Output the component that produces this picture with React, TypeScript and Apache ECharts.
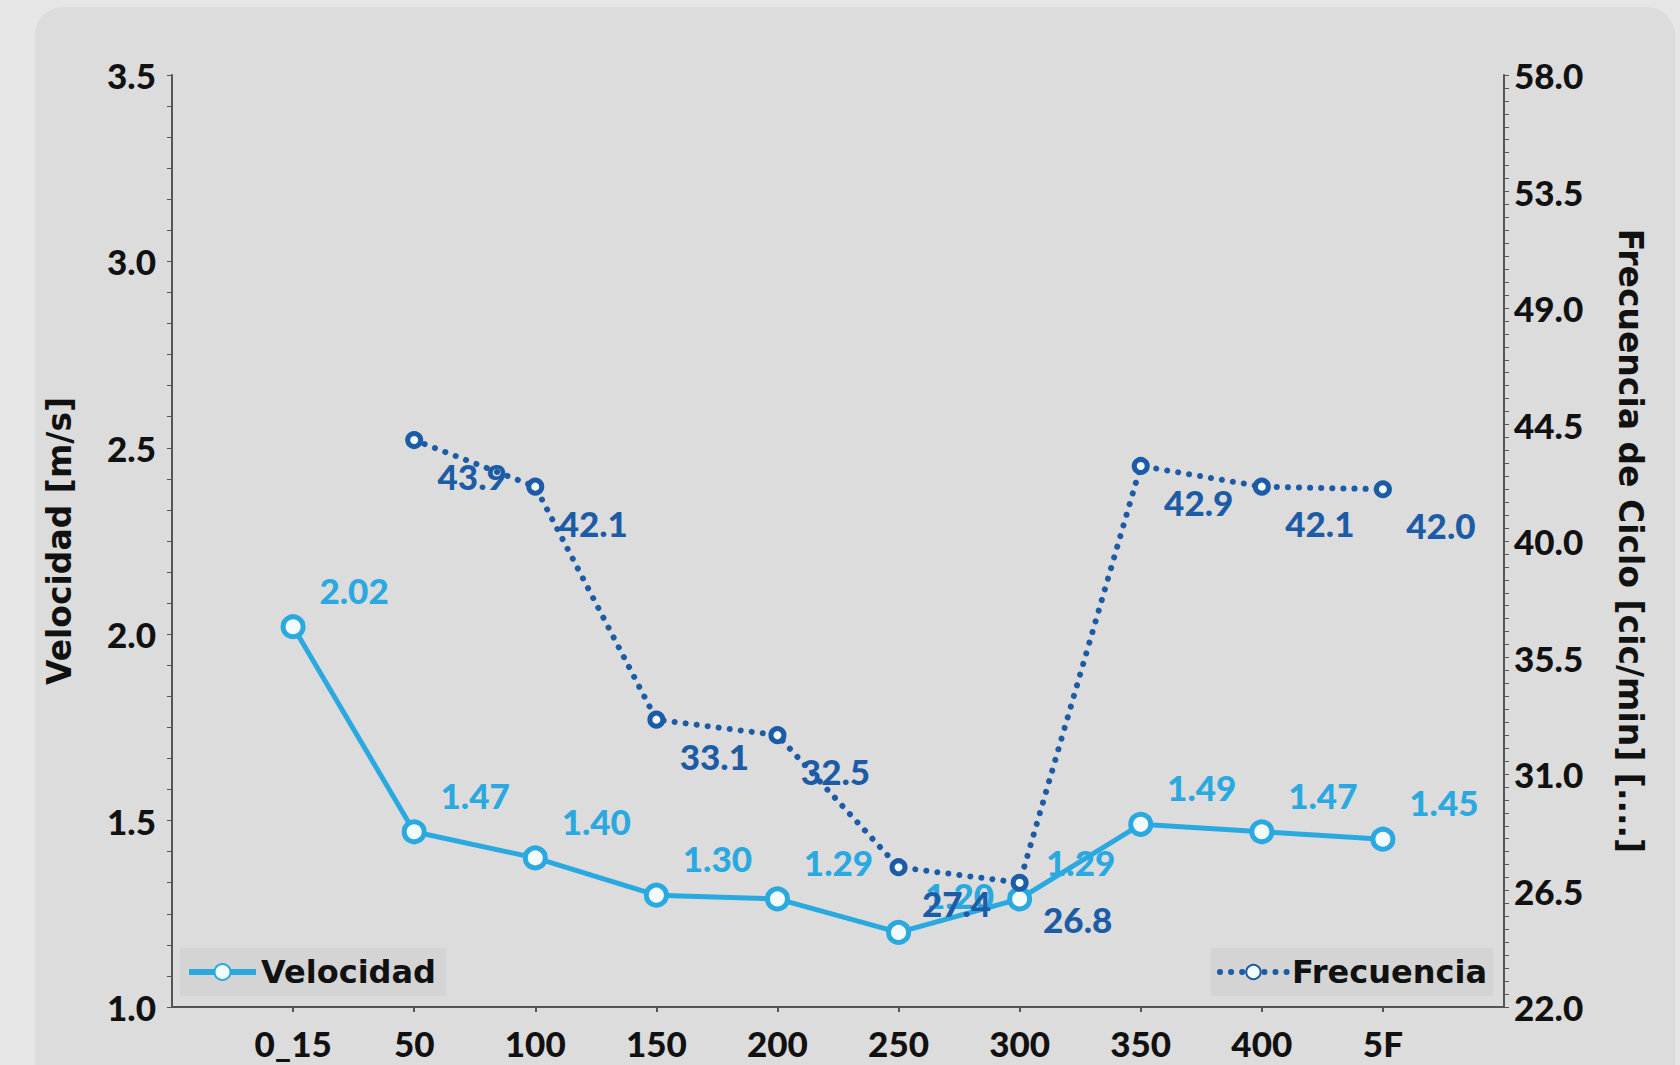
import React, { useEffect, useRef } from "react";
import * as echarts from "echarts";

const categories = ["0_15", "50", "100", "150", "200", "250", "300", "350", "400", "5F"];
const velocidad = [2.02, 1.47, 1.4, 1.3, 1.29, 1.2, 1.29, 1.49, 1.47, 1.45];
const frecuencia: (number | null)[] = [null, 43.9, 42.1, 33.1, 32.5, 27.4, 26.8, 42.9, 42.1, 42.0];
const leftTicks = [1.0, 1.5, 2.0, 2.5, 3.0, 3.5];
const rightTicks = [22.0, 26.5, 31.0, 35.5, 40.0, 44.5, 49.0, 53.5, 58.0];

const VEL_COLOR = "#29a9e0";
const FREC_COLOR = "#1c5ca6";
const NUM_FONT = "Lato";
const TXT_FONT = "DejaVu Sans";

export default function App() {
  const ref = useRef<HTMLDivElement>(null);
  useEffect(() => {
    if (!ref.current) return;
    const chart = echarts.init(ref.current, undefined, { renderer: "svg" });
    const rMin = rightTicks[0];
    const rMax = rightTicks[rightTicks.length - 1];
    const rightMinor: number[] = [];
    for (let k = 0; rMin + k * 0.5 <= rMax + 1e-9; k++) rightMinor.push(rMin + k * 0.5);

    const axisLine = { show: true, lineStyle: { color: "#555", width: 2 } };
    const numLabel = { fontFamily: NUM_FONT, fontWeight: 900, fontSize: 35, color: "#111" };
    const nameStyle = { fontFamily: TXT_FONT, fontWeight: "bold" as const, fontSize: 33, color: "#111" };

    chart.setOption({
      animation: false,
      backgroundColor: "#e6e6e6",
      graphic: {
        elements: [
          {
            type: "rect",
            z: -100,
            silent: true,
            shape: { x: 35, y: 7, width: 1640, height: 1120, r: 28 },
            style: { fill: "#dcdcdc" },
          },
        ],
      },
      grid: { left: 172, right: 176, top: 75, bottom: 58 },
      legend: [
        {
          data: ["Velocidad"],
          left: 180,
          top: 948,
          itemWidth: 67,
          itemHeight: 20,
          padding: [8, 10, 8, 6],
          backgroundColor: "rgba(0,0,0,0.035)",
          lineStyle: { width: 6 },
          textStyle: { fontFamily: TXT_FONT, fontWeight: "bold", fontSize: 32, color: "#111" },
        },
        {
          data: ["Frecuencia"],
          right: 187,
          top: 948,
          itemWidth: 67,
          itemHeight: 18,
          padding: [8, 6, 8, 6],
          backgroundColor: "rgba(0,0,0,0.035)",
          lineStyle: { width: 6 },
          textStyle: { fontFamily: TXT_FONT, fontWeight: "bold", fontSize: 32, color: "#111" },
        },
      ],
      xAxis: {
        type: "value",
        min: 0,
        max: categories.length + 1,
        interval: 1,
        splitLine: { show: false },
        axisLine,
        axisTick: { show: true, length: 5, inside: false, lineStyle: { color: "#555", width: 2 } },
        axisLabel: {
          ...numLabel,
          margin: 18,
          showMinLabel: false,
          showMaxLabel: false,
          formatter: (v: number) => categories[v - 1] ?? "",
        },
      },
      yAxis: [
        {
          type: "value",
          position: "left",
          min: leftTicks[0],
          max: leftTicks[leftTicks.length - 1],
          interval: 0.5,
          splitLine: { show: false },
          axisLine,
          axisTick: { show: true, length: 5, lineStyle: { color: "#555" } },
          minorTick: { show: true, splitNumber: 6, length: 5, lineStyle: { color: "#555" } },
          axisLabel: { ...numLabel, margin: 16, formatter: (v: number) => v.toFixed(1) },
          name: "Velocidad [m/s]",
          nameLocation: "middle",
          nameRotate: 90,
          nameGap: 96,
          nameTextStyle: nameStyle,
        },
        {
          type: "value",
          position: "right",
          min: rMin,
          max: rMax,
          splitLine: { show: false },
          axisLine,
          axisTick: { show: true, length: 5, customValues: rightMinor, lineStyle: { color: "#555" } },
          axisLabel: {
            ...numLabel,
            margin: 10,
            customValues: rightTicks,
            formatter: (v: number) => v.toFixed(1),
          },
          name: "Frecuencia de Ciclo [cic/min] [....]",
          nameLocation: "middle",
          nameRotate: -90,
          nameGap: 110,
          nameTextStyle: nameStyle,
        },
      ],
      series: [
        {
          name: "Velocidad",
          type: "line",
          yAxisIndex: 0,
          z: 2,
          color: VEL_COLOR,
          data: velocidad.map((v, i) => [i + 1, v]),
          symbol: "circle",
          symbolSize: 20,
          lineStyle: { color: VEL_COLOR, width: 5 },
          itemStyle: { color: "#f2fbff", borderColor: VEL_COLOR, borderWidth: 5 },
          label: {
            show: true,
            position: "inside",
            offset: [61, -37],
            fontFamily: NUM_FONT,
            fontWeight: 900,
            fontSize: 35,
            color: VEL_COLOR,
            formatter: (p: any) => Number(p.value[1]).toFixed(2),
          },
        },
        {
          name: "Frecuencia",
          type: "line",
          yAxisIndex: 1,
          z: 3,
          color: FREC_COLOR,
          data: frecuencia.map((v, i) => [i + 1, v == null ? "-" : v]),
          symbol: "circle",
          symbolSize: 13,
          lineStyle: { color: FREC_COLOR, width: 6, type: [0.1, 11], cap: "round" },
          itemStyle: { color: "#f2fbff", borderColor: FREC_COLOR, borderWidth: 5 },
          label: {
            show: true,
            position: "inside",
            offset: [58, 36],
            fontFamily: NUM_FONT,
            fontWeight: 900,
            fontSize: 35,
            color: FREC_COLOR,
            formatter: (p: any) => Number(p.value[1]).toFixed(1),
          },
        },
      ],
    });
    return () => chart.dispose();
  }, []);
  return (
    <div
      ref={ref}
      style={{ position: "fixed", left: 0, top: 0, width: 1680, height: 1065 }}
    />
  );
}
